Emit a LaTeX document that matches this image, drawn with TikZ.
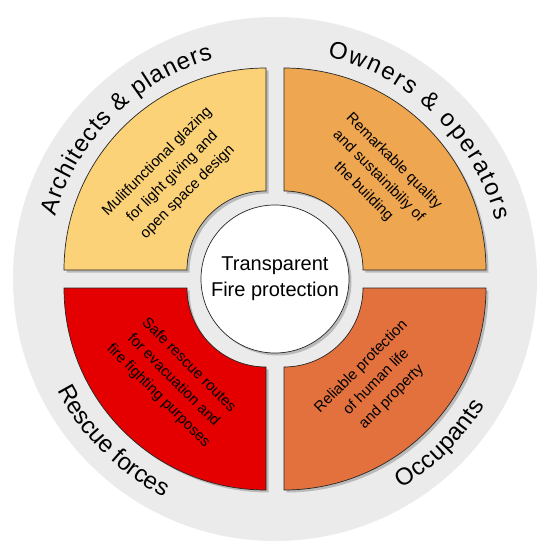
\documentclass[tikz,border=0pt]{standalone}
\usepackage{fontspec}
\setmainfont{Liberation Sans}
\usetikzlibrary{shadows}
\usetikzlibrary{decorations.text}
\usetikzlibrary{positioning}

\definecolor{ringgrey}{RGB}{235,235,235}
\definecolor{archcol}{RGB}{251,210,120}
\definecolor{ownercol}{RGB}{238,166,80}
\definecolor{rescuecol}{RGB}{228,0,0}
\definecolor{occcol}{RGB}{227,113,62}

\begin{document}
\begin{tikzpicture}[
    x=1pt, y=1pt,
    sector/.style={draw=black!85, line width=0.7pt, drop shadow={shadow xshift=2.5pt, shadow yshift=-2.5pt, opacity=0.45}},
    sectortext/.style={align=center, text=black, inner sep=0pt, font=\fontsize{15}{21.5}\selectfont},
    hub/.style={circle, draw=black!85, line width=0.7pt, fill=white, minimum size=148pt, inner sep=0pt, align=center, font=\fontsize{20}{26}\selectfont, drop shadow={shadow xshift=2.5pt, shadow yshift=-2.5pt, opacity=0.45}},
    ringlabel/.style={decorate, decoration={text along path, text align=center, text={#1}}}
]
\useasboundingbox (-275,-275) rectangle (275,279);

\node[circle, fill=ringgrey, minimum size=524pt, inner sep=0pt] (ring) at (0,0) {};

% quarter rings
\draw[sector, fill=archcol] (-211,9) arc[start angle=180, end angle=90, radius=202] -- (-9,88) arc[start angle=90, end angle=180, radius=79] -- cycle;
\draw[sector, fill=ownercol] (9,211) arc[start angle=90, end angle=0, radius=202] -- (88,9) arc[start angle=0, end angle=90, radius=79] -- cycle;
\draw[sector, fill=rescuecol] (-9,-211) arc[start angle=270, end angle=180, radius=202] -- (-88,-9) arc[start angle=180, end angle=270, radius=79] -- cycle;
\draw[sector, fill=occcol] (211,-9) arc[start angle=0, end angle=-90, radius=202] -- (9,-88) arc[start angle=-90, end angle=0, radius=79] -- cycle;

\node[hub] (hub) at (0,0) {Transparent\\Fire protection};

\node[sectortext, rotate=45] (archtext) at (-102.5,102) {Mulitfunctional glazing\\for light giving and\\open space design};
\node[sectortext, rotate=-45] (ownertext) at (103.5,102.5) {Remarkable quality\\and sustainibiliy of\\the building};
\node[sectortext, rotate=-45] (rescuetext) at (-101.5,-101.5) {Safe rescue routes\\for evacuation and\\fire fighting purposes};
\node[sectortext, rotate=45] (occtext) at (101.5,-103) {Reliable protection\\of human life\\and property};

% labels on the grey ring
\path[ringlabel={|\fontsize{24}{24}\selectfont\kern1pt|Architects {\&} planers}] (175:228.5) arc[start angle=175, end angle=95, radius=228.5];
\path[ringlabel={|\fontsize{24}{24}\selectfont\kern2pt|Owners {\&} operators}] (86:228.5) arc[start angle=86, end angle=6, radius=228.5];
\path[ringlabel={|\fontsize{24}{24}\selectfont|Rescue forces}] (195:244.5) arc[start angle=195, end angle=255, radius=244.5];
\path[ringlabel={|\fontsize{24}{24}\selectfont\kern0.5pt|Occupants}] (-75:244.5) arc[start angle=-75, end angle=-15, radius=244.5];
\end{tikzpicture}
\end{document}
